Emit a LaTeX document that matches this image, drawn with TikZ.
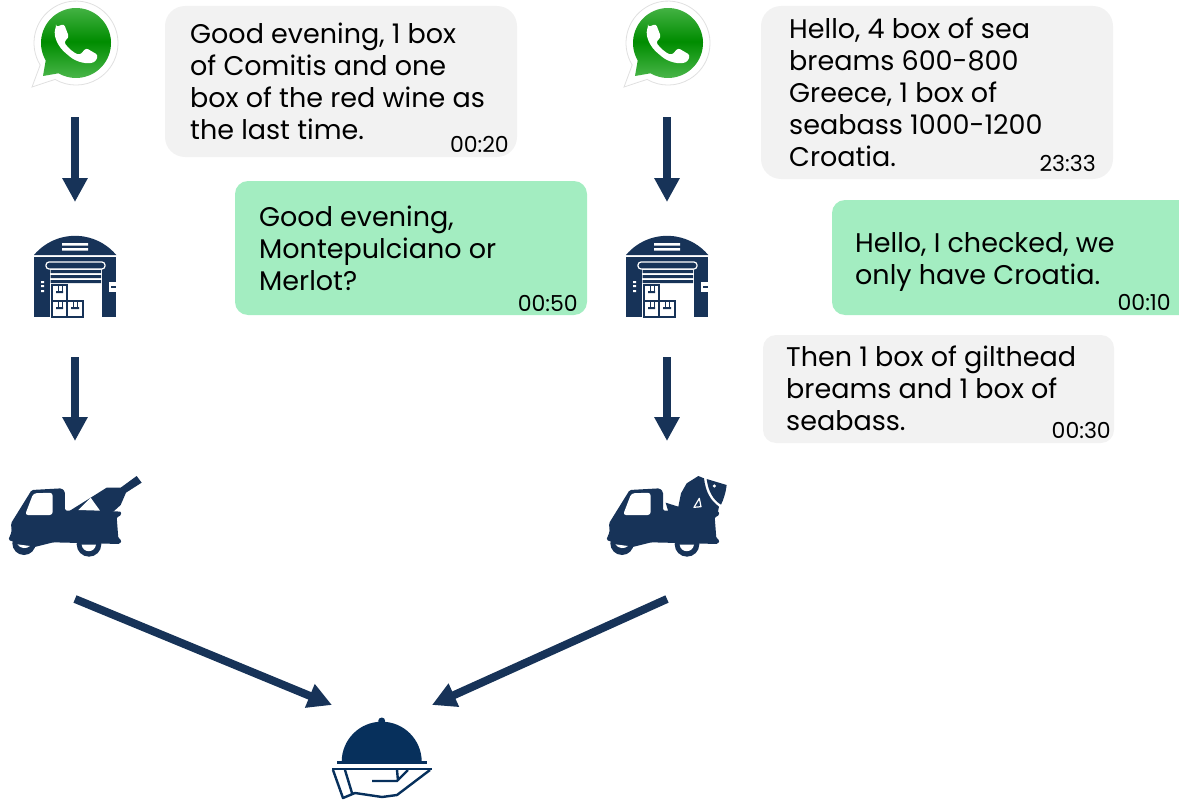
\documentclass[tikz,border=0pt]{standalone}
\usepackage{fontspec}
\setmainfont{Poppins}
\usetikzlibrary{arrows.meta}
\definecolor{navy}{HTML}{173358}
\definecolor{domeblue}{HTML}{07305C}
\definecolor{greybubble}{HTML}{F2F2F2}
\definecolor{greenbubble}{HTML}{A3EDC1}
\tikzset{
	bubble/.style={rounded corners=20pt, fill=greybubble, inner sep=0pt},
	reply/.style={bubble, rounded corners=13pt, fill=greenbubble},
	msg/.style={anchor=north west, align=left, inner sep=0pt, font=\fontsize{27}{32}\selectfont},
	stamp/.style={anchor=south east, inner sep=0pt, font=\fontsize{22}{22}\selectfont},
	iconbox/.style={inner sep=0pt, outer sep=0pt},
	flow/.style={navy, line width=8pt, -{Triangle[length=24pt, width=24pt]}},
	whatsapp/.pic={
		\fill[white, draw=black!12, line width=0.8pt] (32,87) -- (40.2,65)
			arc[start angle=148.5, end angle=480, radius=42] -- cycle;
		\shade[top color=green!60!black!70!white, bottom color=green!60!black!70!white, middle color=green!55!black]
			(43,76) -- (45.7,60.5)
			arc[start angle=150, end angle=480, radius=35] -- cycle;
		\fill[white, rounded corners=2.5pt] (56,27) -- (64,24) -- (69,37) -- (64,42)
			.. controls (68,48) and (74,53) .. (80,55)
			-- (86,48) -- (98,55) -- (96,61)
			.. controls (88,65) and (76,62) .. (68,55)
			.. controls (58,47) and (53,36) .. (56,27) -- cycle;
	},
	storehouse/.pic={
		\fill[navy] (34,255) arc[start angle=-140, end angle=-40, radius=53.7] -- cycle;
		\fill[navy] (34,257) rectangle (116,317);
		\fill[white] (62,243) rectangle (88,245.5) (62,248) rectangle (88,250.5);
		\fill[white] (49.5,268) rectangle (102,317);
		\fill[navy] (50.5,270) rectangle (101,273) (50.5,275) rectangle (101,278) (50.5,280) rectangle (101,283);
		\draw[white, fill=navy, line width=1.2pt, rounded corners=3pt] (46,269) -- (46,262) -- (105,262) -- (105,269) -- cycle;
		\draw[navy, line width=1.8pt] (52,285) rectangle (67,301) (52,301) rectangle (67,317) (67,301) rectangle (83,317);
		\fill[navy] (56,291) rectangle (63,293) (56,307) rectangle (63,309) (71,307) rectangle (79,309);
		\draw[navy, line width=0.8pt] (58,285) -- (58,291) (62,285) -- (62,291) (58,301) -- (58,307) (62,301) -- (62,307) (73,301) -- (73,307) (77,301) -- (77,307);
		\fill[white] (41,281) rectangle (44,283) (41,285) rectangle (44,287) (41,290) rectangle (44,292);
		\fill[white] (109,282) rectangle (116,292);
		\fill[navy] (111,286) rectangle (116,288);
	},
	truckbase/.pic={
		\fill[navy, rounded corners=1.5pt] (25,240) -- (35,215) -- (33,190) -- (95,90)
			-- (185,85) -- (195,95) -- (195,152) -- (300,152) -- (365,155)
			-- (360,170) -- (350,170) -- (355,235) -- (365,240) -- (360,252)
			-- (160,247) -- (100,262) -- (40,245) -- cycle;
		\fill[navy] (72,250) circle[radius=35] (267,253) circle[radius=37];
		\fill[white, rounded corners=3pt] (75,165) -- (100,100) -- (158,98) -- (158,165) -- cycle;
		\fill[white] (52,253) .. controls (62,267) and (80,267) .. (90,258) -- cycle;
		\fill[white] (245,254) .. controls (248,280) and (284,280) .. (288,254) -- cycle;
	},
	bottle/.pic={
		\fill[navy] (205,155) -- (320,83) -- (362,83) -- (410,48) -- (425,68)
			-- (378,98) -- (362,135) -- (340,155) -- cycle;
		\fill[white] (235,150) -- (272,113) -- (300,152) -- cycle;
	},
	fish/.pic={
		\fill[navy] (212,128) -- (250,140) -- (258,100) -- (275,70) -- (310,48) -- (327,55)
			.. controls (332,95) and (345,120) .. (372,140)
			-- (368,160) -- (220,155) -- cycle;
		\fill[navy] (335,57) -- (395,75) .. controls (392,100) and (385,120) .. (378,134)
			.. controls (355,120) and (340,95) .. (335,57) -- cycle;
		\fill[white] (358,78) circle[radius=5];
		\draw[white, line width=1.2pt, line join=round] (297,142) -- (313,115) -- (318,140) -- cycle;
	},
	cloche/.pic={
		\fill[domeblue] (341.7,761.7) arc[start angle=180, end angle=360, radius=40] -- cycle;
		\fill[domeblue] (381.7,721) circle[radius=3.5];
		\fill[domeblue] (336.7,761) rectangle (427.3,764);
		\fill[domeblue] (332.3,767.7) rectangle (431.7,770);
		\draw[domeblue, line width=2.4pt, line join=round]
			(333,770) -- (343,798) -- (355,793) -- (382,797) -- (397,795) -- (430,770)
			(345,770) -- (352,793)
			(372,781) -- (397,781) -- (408,770)
			(397,770) -- (398,781);
	}
}
\begin{document}
\begin{tikzpicture}[x=1pt, y=-1pt]
\useasboundingbox (0,0) rectangle (1179,800);

% left column
\pic at (0,0) {whatsapp};
\pic at (0,0) {storehouse};
\pic at (0,460) [scale=1/3] {truckbase};
\pic at (0,460) [scale=1/3] {bottle};
% right column
\pic at (592,0) {whatsapp};
\pic at (592,0) {storehouse};
\pic at (598,460) [scale=1/3] {truckbase};
\pic at (595,460) [scale=1/3] {fish};
\pic at (0,0) {cloche};

% icons as nodes, the box edges are where the arrows stop
\node[iconbox, minimum width=84pt, minimum height=144pt] (whatsL) at (75,45) {};
\node[iconbox, minimum width=84pt, minimum height=155pt] (storeL) at (75,279.5) {};
\node[iconbox, minimum width=130pt, minimum height=158pt] (truckL) at (75,520) {};
\node[iconbox, minimum width=84pt, minimum height=144pt] (whatsR) at (667,45) {};
\node[iconbox, minimum width=84pt, minimum height=155pt] (storeR) at (667,279.5) {};
\node[iconbox, minimum width=130pt, minimum height=158pt] (truckR) at (667,520) {};
\node[iconbox, minimum width=100pt, minimum height=104pt] (dish) at (382,757) {};

\draw[flow] (whatsL) -- (storeL);
\draw[flow] (storeL) -- (truckL);
\draw[flow] (whatsR) -- (storeR);
\draw[flow] (storeR) -- (truckR);
\draw[flow] (truckL.south) -- (dish.north west);
\draw[flow] (truckR.south) -- (dish.north east);

% messages
\fill[bubble] (165,6) rectangle (517,157);
\node[msg] (msgA) at (190,23) {Good evening, 1 box\\of Comitis and one\\box of the red wine as\\the last time.};
\node[stamp] (timeA) at (509,153) {00:20};
\fill[reply] (235,181) rectangle (587,315);
\node[msg] (msgB) at (259,206) {Good evening,\\Montepulciano or\\Merlot?};
\node[stamp] (timeB) at (578,312) {00:50};
\fill[bubble] (761,6) rectangle (1113,179);
\node[msg] (msgC) at (789,18) {Hello, 4 box of sea\\breams 600-800\\Greece, 1 box of\\seabass 1000-1200\\Croatia.};
\node[stamp] (timeC) at (1096,172) {23:33};
\fill[reply] (832,200) rectangle (1192,315);
\node[msg] (msgD) at (855,232) {Hello, I checked, we\\only have Croatia.};
\node[stamp] (timeD) at (1171,311) {00:10};
\fill[bubble, rounded corners=13pt] (763,335) rectangle (1114,443);
\node[msg] (msgE) at (786,346) {Then 1 box of gilthead\\breams and 1 box of\\seabass.};
\node[stamp] (timeE) at (1111,439) {00:30};
\end{tikzpicture}
\end{document}
